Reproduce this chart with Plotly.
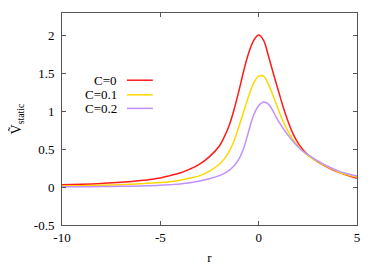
import plotly.graph_objects as go

r_vals = [-10, -9, -8, -7, -6, -5, -4.5, -4, -3.5, -3, -2.5, -2, -1.75, -1.5, -1.25, -1,
          -0.75, -0.5, -0.25, 0, 0.25, 0.5, 0.75, 1, 1.25, 1.5, 1.75, 2, 2.25, 2.5, 3, 3.5, 4, 4.5, 5]

v_c0 = [0.03, 0.037, 0.047, 0.062, 0.085, 0.12, 0.15, 0.185, 0.235, 0.30, 0.40, 0.54, 0.66, 0.81, 1.02, 1.27,
        1.54, 1.77, 1.93, 2.0, 1.93, 1.72, 1.49, 1.27, 1.05, 0.86, 0.70, 0.58, 0.49, 0.425, 0.33, 0.26, 0.20, 0.155, 0.115]

v_c01 = [0.012, 0.016, 0.022, 0.03, 0.042, 0.058, 0.07, 0.09, 0.115, 0.15, 0.21, 0.30, 0.37, 0.47, 0.61, 0.80,
         1.0, 1.2, 1.37, 1.46, 1.46, 1.35, 1.19, 1.02, 0.86, 0.73, 0.62, 0.54, 0.47, 0.415, 0.335, 0.265, 0.205, 0.16, 0.13]

v_c02 = [0.003, 0.004, 0.006, 0.009, 0.014, 0.022, 0.03, 0.04, 0.055, 0.078, 0.108, 0.15, 0.18, 0.22, 0.28, 0.37,
         0.52, 0.74, 0.95, 1.07, 1.12, 1.09, 0.99, 0.87, 0.77, 0.68, 0.60, 0.53, 0.47, 0.425, 0.345, 0.275, 0.215, 0.175, 0.145]

series_names = ["C=0", "C=0.1", "C=0.2"]
series_vals = [v_c0, v_c01, v_c02]
colors = ["#ff1a1a", "#ffd700", "#c090ff"]

x_ticks = [-10, -5, 0, 5]
y_ticks = [-0.5, 0, 0.5, 1, 1.5, 2]

font_family = "Liberation Serif, Times New Roman, serif"

fig = go.Figure()
for name, vals, col in zip(series_names, series_vals, colors):
    fig.add_trace(go.Scatter(x=r_vals, y=vals, mode="lines", name=name,
                             line=dict(color=col, width=1.5, shape="spline", smoothing=1.0),
                             showlegend=False))

# gnuplot-style key: text then sample line
key_y = [0.683, 0.614, 0.550]
for name, col, ky in zip(series_names, colors, key_y):
    fig.add_annotation(x=0.189, y=ky, xref="paper", yref="paper", text=name, showarrow=False,
                       xanchor="right", yanchor="middle", borderpad=0,
                       font=dict(family=font_family, size=13, color="#000"))
    fig.add_shape(type="line", xref="paper", yref="paper", x0=0.220, x1=0.308, y0=ky, y1=ky,
                  line=dict(color=col, width=1.5))

axis_common = dict(showline=True, linecolor="#555", linewidth=1, mirror="ticks",
                   ticks="inside", ticklen=4, tickcolor="#555", tickwidth=1,
                   showgrid=False, zeroline=False,
                   tickfont=dict(family=font_family, size=13, color="#000"))

fig.update_xaxes(range=[-10, 5], tickvals=x_ticks, ticktext=[str(t) for t in x_ticks],
                 title=dict(text="r", font=dict(family=font_family, size=13, color="#000"), standoff=9),
                 **axis_common)
fig.update_yaxes(range=[-0.5, 2.29], tickvals=y_ticks, ticktext=["-0.5", "0", "0.5", "1", "1.5", "2"],
                 ticklabelstandoff=4,
                 title=dict(text="\u1E7C<sub>static</sub>", font=dict(family=font_family, size=14, color="#000"), standoff=14),
                 **axis_common)

# page body has an 8px margin, so the figure is sized to fit the 380x266 window
fig.update_layout(width=372, height=258, margin=dict(l=54, r=23, t=5, b=41, autoexpand=False),
                  paper_bgcolor="white", plot_bgcolor="white")

fig.write_html("out.html")
